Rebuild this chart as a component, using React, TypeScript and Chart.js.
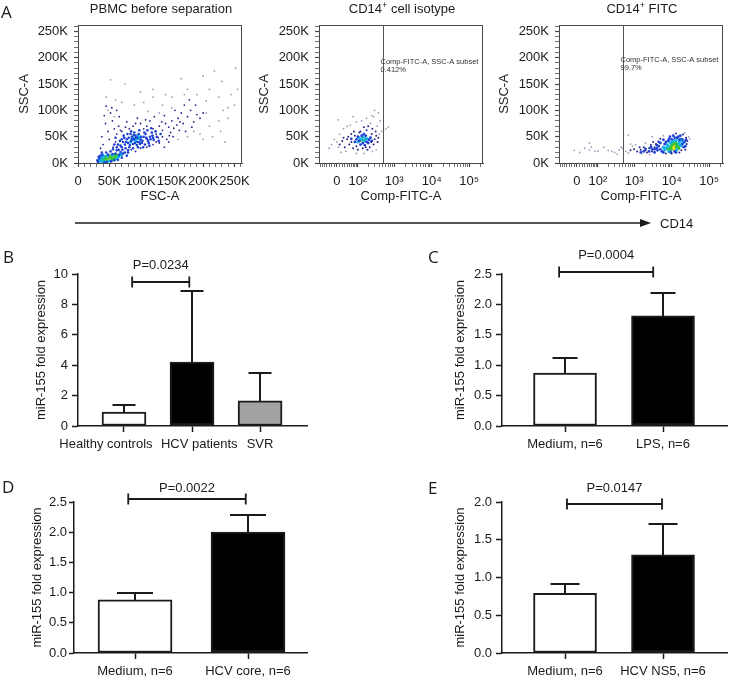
import React, { useEffect, useRef } from 'react';
import { Chart, registerables } from 'chart.js';

Chart.register(...registerables);

const SANS = "'Liberation Sans', Arial, Helvetica, sans-serif";
const LETTER_FONT = "'Open Sans', 'Liberation Sans', Arial, sans-serif";
const INK = '#1b1b1b';
const FLOW_AXIS = '#4a4a4a';

// ---------------- Panel A: flow cytometry ----------------
// FSC-A / SSC-A in thousands (K); Comp-FITC-A in raw units.
const FLOW_MAX_K = 262.144;
const LIN_MAJOR_K = [0, 50, 100, 150, 200, 250];
const FITC_MAJOR = [0, 100, 1000, 10000, 100000];
const FITC_MAJOR_LABELS = ['0', '10²', '10³', '10⁴', '10⁵'];
const FITC_MIN = -80;
const FITC_MAX = 232000;
const GATE_FITC = 500;
const GATE_TEXT = 'Comp-FITC-A, SSC-A subset';
const ISO_PCT = '0.412%';
const FITC_PCT = '99.7%';

const PBMC_SPARSE = [[210,70],[215,50],[225,80],[232,100],[240,105],[250,110],[255,140],[252,180],[218,175],[230,155],[200,165],[210,140],[190,130],[175,140],[165,160],[150,125],[140,130],[135,110],[120,125],[105,115],[100,135],[75,150],[52,158],[60,120],[45,125],[48,100],[225,125],[240,85],[205,118],[245,130],[185,60],[195,55],[228,60],[160,45],[175,50],[205,95],[150,105],[130,95],[112,98],[90,110],[70,115],[58,88],[170,130],[120,140],[235,40],[200,45]];
const PBMC_DARK = [[60,40],[62,55],[58,65],[55,80],[52,95],[54,105],[45,108],[42,90],[44,75],[48,60],[65,70],[70,60],[120,65],[125,55],[130,70],[135,62],[128,48],[140,75],[145,68],[150,80],[138,90],[155,100],[160,85],[165,95],[148,58],[170,110],[175,88],[180,100],[158,72],[120,35],[125,40],[130,38],[135,50],[142,45],[110,70],[115,80],[105,65],[100,75],[95,85],[88,70],[82,65],[78,78],[66,88],[62,100],[185,78],[190,92],[168,75],[178,120],[172,60],[195,85],[200,95],[188,110],[145,40],[152,50],[162,62],[182,68],[110,30],[100,28],[56,30],[50,45],[40,35],[36,28],[38,50],[85,25],[92,22],[138,30],[146,52],[134,78],[122,88],[108,82],[92,75],[76,68],[68,62],[153,66],[163,78]];
const PBMC_BLUE = [[70,30],[75,35],[80,38],[85,42],[90,45],[95,48],[100,44],[88,36],[82,30],[78,45],[92,52],[105,50],[110,46],[98,40],[86,50],[72,40],[68,33],[76,28],[94,34],[102,38],[108,55],[115,50],[84,55],[90,58],[65,25],[80,24],[96,30],[112,42],[118,58],[74,48],[64,35],[70,45],[73,52],[77,40],[81,48],[83,34],[87,46],[89,53],[91,38],[93,48],[97,55],[99,36],[101,50],[103,42],[106,58],[107,35],[109,48],[111,62],[113,38],[116,45],[119,52],[121,44],[124,60],[126,50],[129,42],[132,55],[98,62],[85,60],[79,55],[71,25],[67,42],[62,30],[60,48],[58,35],[104,30],[114,33],[95,40],[88,28],[120,48],[117,66],[32,2],[34,9],[36,14],[39,16],[42,1],[46,2],[53,3],[58,5],[64,6],[70,10],[72,18],[75,20],[68,21],[60,18],[55,17],[48,16],[31,5],[33,12],[62,24],[66,15],[78,14],[80,20],[45,20],[52,22],[38,20],[56,26]];
const PBMC_CYAN = [[35,4],[36,8],[38,3],[40,10],[43,2],[47,14],[50,4],[55,15],[62,8],[65,12],[66,16],[68,17],[37,11],[33,6],[41,13],[70,15],[88,44],[95,46],[92,42],[84,40],[99,47],[90,48],[96,52],[86,46],[100,49]];
const PBMC_GREEN = [[40,5],[42,8],[45,4],[48,11],[54,6],[57,8],[61,10],[63,14],[38,6],[52,13],[59,15],[44,12]];
const PBMC_YELLOW = [[44,7],[48,6],[52,8],[58,12],[55,9],[46,10],[50,12],[60,13]];
const PBMC_ORANGE = [[47,8],[51,9],[55,10],[49,11]];
const PBMC_RED = [[50,9],[53,10]];

const ISO_SPARSE = [[-20,35],[-10,45],[5,30],[10,55],[0,40],[25,65],[35,22],[15,20],[55,72],[90,78],[130,80],[180,85],[230,75],[280,88],[350,70],[400,55],[420,80],[380,95],[300,100],[250,90],[460,60],[520,62],[600,65],[700,68],[150,18],[260,22],[90,18],[330,25],[-30,28],[40,70],[5,82],[70,88]];
const ISO_DARK = [[30,30],[50,35],[40,45],[60,55],[70,28],[90,32],[120,60],[180,62],[250,55],[300,45],[280,35],[260,65],[220,30],[140,28],[100,25],[60,40],[20,42],[45,50],[75,60],[330,52],[360,40],[200,70],[150,68],[110,58],[240,40],[320,60],[170,30],[80,52],[10,35],[25,48],[190,25],[380,48]];
const ISO_BLUE = [[80,40],[100,50],[140,38],[170,52],[210,44],[120,35],[150,55],[230,48],[90,45],[200,38],[60,46],[130,52],[180,40],[250,42],[110,42],[160,34]];
const ISO_CYAN = [[130,45],[160,42],[110,48],[190,46],[140,50],[100,40],[170,47]];
const ISO_GREEN = [[140,44],[165,46],[120,43]];

const FITC_SPARSE = [[600,22],[500,28],[700,19],[900,32],[400,25],[300,20],[200,24],[100,23],[50,25],[30,28],[-10,24],[10,20],[150,30],[250,22],[1100,35],[3000,50],[2000,38],[28000,50],[30000,46],[22000,57],[6000,52],[350,17],[450,30],[800,36],[80,22],[60,30],[1600,18],[2600,16],[700,53],[50,38]];
const FITC_DARK = [[2000,24],[2500,28],[3000,22],[3500,30],[2200,20],[1500,25],[1800,30],[3800,36],[1200,22],[1000,26],[800,24],[1400,30],[3200,40],[2800,34],[26000,42],[24000,48],[25000,36],[23000,25],[7000,18],[10000,18],[16000,20],[18000,24],[20000,54],[13000,56],[5000,46]];
const FITC_BLUE = [[4500,40],[6000,44],[9000,50],[11000,52],[17000,52],[5000,26],[4500,32],[4000,28],[5500,22],[12000,22],[21000,30],[22000,40],[19000,45],[15000,50],[8000,42],[6500,36],[3500,26],[14000,48],[10000,45],[1500,20],[2000,27],[2500,22],[3000,26],[3500,20],[4000,34],[2800,30],[1800,22],[5000,38],[7000,40],[8500,46],[12000,48],[16000,44],[19000,36],[23000,32],[24000,44],[9500,20],[13000,20],[6000,20],[4200,24]];
const FITC_CYAN = [[7000,28],[6000,30],[9500,38],[16000,40],[18000,33],[11000,42],[13500,25],[8500,22],[17000,45],[7500,35],[20000,38],[9000,40],[13000,43],[15500,36],[19500,42],[8000,32],[6500,25]];
const FITC_GREEN = [[9000,30],[14000,35],[10000,34],[15000,28],[12500,38],[8000,27],[11000,38],[13500,31],[16000,33],[9500,26]];
const FITC_YELLOW = [[11000,30],[13000,33],[12000,27],[10500,36]];
const FITC_ORANGE = [[11500,31],[12500,30]];

const C_SPARSE = 'rgba(105,105,150,0.65)';
const C_DARK = '#25258a';
const C_BLUE = '#1d3fd6';
const C_CYAN = '#18b4e6';
const C_GREEN = '#38c43a';
const C_YELLOW = '#efe01e';
const C_ORANGE = '#ff8a00';
const C_RED = '#ff2400';

// ---------------- Panels B-E: bar charts ----------------
const Y_TITLE = 'miR-155 fold expression';

const CATS_B = ['Healthy controls', 'HCV patients', 'SVR'];
const MEAN_B = [0.92, 4.2, 1.65];
const SD_B = [0.48, 4.7, 1.85];
const P_B = 'P=0.0234';

const CATS_C = ['Medium, n=6', 'LPS, n=6'];
const MEAN_C = [0.87, 1.81];
const SD_C = [0.25, 0.38];
const P_C = 'P=0.0004';

const CATS_D = ['Medium, n=6', 'HCV core, n=6'];
const MEAN_D = [0.88, 2.0];
const SD_D = [0.11, 0.28];
const P_D = 'P=0.0022';

const CATS_E = ['Medium, n=6', 'HCV NS5, n=6'];
const MEAN_E = [0.79, 1.3];
const SD_E = [0.12, 0.41];
const P_E = 'P=0.0147';

const logicle = (v: number) => Math.asinh(v / 60) / Math.LN10;

function linTicks(isX: boolean) {
  const out: any[] = [];
  for (let v = 0; v <= 260; v += 10) {
    let lab = '';
    if (LIN_MAJOR_K.includes(v)) lab = v === 0 && isX ? '0' : `${v}K`;
    out.push({ value: v, lab });
  }
  return out;
}

function fitcTicks() {
  const out: any[] = [];
  FITC_MAJOR.forEach((v, i) => out.push({ value: logicle(v), lab: FITC_MAJOR_LABELS[i] }));
  const minors: number[] = [];
  for (let n = 1; n <= 7; n++) minors.push(-n * 10);
  for (let n = 1; n <= 9; n++) minors.push(n * 10);
  [100, 1000, 10000].forEach((b) => { for (let n = 2; n <= 9; n++) minors.push(n * b); });
  minors.push(200000);
  minors.forEach((v) => out.push({ value: logicle(v), lab: '' }));
  return out.sort((a, b) => a.value - b.value);
}

function FlowPlot(p: any) {
  const ref = useRef<HTMLCanvasElement>(null);
  useEffect(() => {
    const tx = p.log ? logicle : (v: number) => v;
    const xTicks = p.log ? fitcTicks() : linTicks(true);
    const yTicks = linTicks(false);
    const decor = {
      id: 'flowDecor',
      afterDatasetsDraw(chart: any) {
        const { ctx, chartArea: a, scales } = chart;
        ctx.save();
        ctx.strokeStyle = FLOW_AXIS;
        ctx.lineWidth = 1;
        ctx.strokeRect(a.left + 0.5, a.top + 0.5, a.right - a.left - 1, a.bottom - a.top);
        if (p.gate !== undefined) {
          const gx = Math.round(scales.x.getPixelForValue(logicle(p.gate))) + 0.5;
          ctx.strokeStyle = '#555';
          ctx.lineWidth = 1;
          ctx.beginPath();
          ctx.moveTo(gx, a.top);
          ctx.lineTo(gx, a.bottom);
          ctx.stroke();
          ctx.fillStyle = '#333';
          ctx.font = `7.5px ${SANS}`;
          ctx.textAlign = 'left';
          ctx.textBaseline = 'middle';
          ctx.fillText(GATE_TEXT, gx - 3, a.top + p.gateDy[0]);
          ctx.fillText(p.pct, gx - 3, a.top + p.gateDy[1]);
        }
        ctx.restore();
      },
    };
    const cfg: any = {
      type: 'scatter',
      data: {
        datasets: p.groups.map((g: any) => ({
          data: g.pts.map((q: number[]) => ({ x: tx(q[0]), y: q[1] })),
          backgroundColor: g.color,
          borderWidth: 0,
          pointRadius: g.r,
          pointHoverRadius: g.r,
          pointBorderWidth: 0,
        })),
      },
      options: {
        animation: false,
        responsive: false,
        maintainAspectRatio: false,
        devicePixelRatio: 1,
        events: [],
        layout: { padding: { top: p.padTop, right: p.padRight, bottom: 0, left: 0 } },
        plugins: { legend: { display: false }, tooltip: { enabled: false } },
        scales: {
          x: {
            type: 'linear',
            min: p.log ? logicle(FITC_MIN) : 0,
            max: p.log ? logicle(FITC_MAX) : FLOW_MAX_K,
            afterBuildTicks: (s: any) => { s.ticks = xTicks.map((t: any) => ({ ...t })); },
            afterFit: (s: any) => { s.height = p.xAxisH; },
            ticks: {
              autoSkip: false, maxRotation: 0, minRotation: 0, padding: 7, color: INK,
              font: { family: SANS, size: 13 },
              callback: (_v: any, i: number, ticks: any[]) => (ticks[i] && ticks[i].lab) || '',
            },
            grid: {
              display: true, drawOnChartArea: false, drawTicks: true, tickLength: 4, color: FLOW_AXIS,
              tickWidth: (c: any) => (c.tick && c.tick.lab ? 1.2 : 0.8),
            },
            border: { display: true, color: FLOW_AXIS, width: 1 },
            title: { display: true, text: p.xTitle, color: INK, font: { family: SANS, size: 13 }, padding: { top: 0, bottom: 1 } },
          },
          y: {
            type: 'linear',
            min: 0,
            max: FLOW_MAX_K,
            afterBuildTicks: (s: any) => { s.ticks = yTicks.map((t: any) => ({ ...t })); },
            afterFit: (s: any) => { s.width = p.yAxisW; },
            ticks: {
              autoSkip: false, padding: 6, color: INK,
              font: { family: SANS, size: 13 },
              callback: (_v: any, i: number, ticks: any[]) => (ticks[i] && ticks[i].lab) || '',
            },
            grid: {
              display: true, drawOnChartArea: false, drawTicks: true, tickLength: 4, color: FLOW_AXIS,
              tickWidth: (c: any) => (c.tick && c.tick.lab ? 1.2 : 0.8),
            },
            border: { display: true, color: FLOW_AXIS, width: 1 },
            title: { display: true, text: 'SSC-A', color: INK, font: { family: SANS, size: 13 }, padding: { top: 17, bottom: 0 } },
          },
        },
      },
      plugins: [decor],
    };
    const chart = new Chart(ref.current as HTMLCanvasElement, cfg);
    return () => chart.destroy();
  }, []);
  return (
    <canvas ref={ref} width={p.width} height={p.height}
      style={{ position: 'absolute', left: p.left, top: p.top, width: p.width, height: p.height }} />
  );
}

function BarPanel(p: any) {
  const ref = useRef<HTMLCanvasElement>(null);
  useEffect(() => {
    const decor = {
      id: 'barDecor',
      afterDatasetsDraw(chart: any) {
        const { ctx, scales } = chart;
        const ys = scales.y;
        const xs = scales.x;
        const meta = chart.getDatasetMeta(0);
        ctx.save();
        ctx.strokeStyle = INK;
        ctx.lineWidth = 2;
        meta.data.forEach((bar: any, i: number) => {
          const x = Math.round(bar.x);
          const yTop = ys.getPixelForValue(p.means[i]) + 1;
          const yErr = Math.round(ys.getPixelForValue(p.means[i] + p.sds[i]));
          ctx.beginPath();
          ctx.moveTo(x, yTop);
          ctx.lineTo(x, yErr);
          ctx.moveTo(x - p.capW / 2, yErr);
          ctx.lineTo(x + p.capW / 2, yErr);
          ctx.stroke();
        });
        const b = p.bracket;
        const by = Math.round(ys.getPixelForValue(b.y));
        const x0 = xs.getPixelForValue(b.x0);
        const x1 = xs.getPixelForValue(b.x1);
        ctx.lineWidth = 1.8;
        ctx.beginPath();
        ctx.moveTo(x0, by);
        ctx.lineTo(x1, by);
        ctx.moveTo(x0, by - 5.5);
        ctx.lineTo(x0, by + 5.5);
        ctx.moveTo(x1, by - 5.5);
        ctx.lineTo(x1, by + 5.5);
        ctx.stroke();
        ctx.fillStyle = INK;
        ctx.font = `13px ${SANS}`;
        ctx.textAlign = 'center';
        ctx.textBaseline = 'middle';
        ctx.fillText(b.text, (x0 + x1) / 2, by - b.dy);
        ctx.restore();
      },
    };
    const labelFor = (i: number) => {
      const pad = p.labelSpaces ? p.labelSpaces[i] : [0, 0];
      return ' '.repeat(pad[0]) + p.cats[i] + ' '.repeat(pad[1]);
    };
    const cfg: any = {
      type: 'bar',
      data: {
        datasets: [{
          data: p.cats.map((_c: string, i: number) => ({ x: i, y: p.means[i] })),
          backgroundColor: p.fills,
          borderColor: INK,
          borderWidth: 2,
          borderSkipped: false,
          barThickness: p.barW,
        }],
      },
      options: {
        animation: false,
        responsive: false,
        maintainAspectRatio: false,
        devicePixelRatio: 1,
        events: [],
        layout: { padding: { top: p.padTop, right: p.padRight, bottom: 0, left: 0 } },
        plugins: { legend: { display: false }, tooltip: { enabled: false } },
        scales: {
          x: {
            type: 'linear',
            offset: false,
            min: p.xMin,
            max: p.xMax,
            afterBuildTicks: (s: any) => { s.ticks = p.cats.map((_c: string, i: number) => ({ value: i })); },
            afterFit: (s: any) => { s.height = p.xAxisH; },
            ticks: {
              autoSkip: false, maxRotation: 0, minRotation: 0, padding: 5, color: INK,
              font: { family: SANS, size: 13 },
              callback: (_v: any, i: number) => labelFor(i),
            },
            grid: { display: true, offset: false, drawOnChartArea: false, drawTicks: true, tickLength: 6, color: INK, tickWidth: 1.5 },
            border: { display: true, color: INK, width: 1.5 },
          },
          y: {
            type: 'linear',
            min: 0,
            max: p.yMax,
            afterFit: (s: any) => { s.width = p.yAxisW; },
            ticks: {
              stepSize: p.yStep, padding: p.yTickPad, color: INK,
              font: { family: SANS, size: 13 },
              callback: (v: number) => Number(v).toFixed(p.decimals),
            },
            grid: { display: true, drawOnChartArea: false, drawTicks: true, tickLength: p.yTickLen, color: INK, tickWidth: 1.5 },
            border: { display: true, color: INK, width: 1.5 },
            title: { display: true, text: Y_TITLE, color: INK, font: { family: SANS, size: 13 }, padding: { top: p.yTitlePad, bottom: 0 } },
          },
        },
      },
      plugins: [decor],
    };
    const chart = new Chart(ref.current as HTMLCanvasElement, cfg);
    return () => chart.destroy();
  }, []);
  return (
    <canvas ref={ref} width={p.width} height={p.height}
      style={{ position: 'absolute', left: p.left, top: p.top, width: p.width, height: p.height }} />
  );
}

const letterStyle = (left: number, top: number): any => ({
  position: 'absolute', left, top, fontFamily: LETTER_FONT, fontSize: 17, lineHeight: '17px', color: INK,
});
const titleStyle = (cx: number, top: number): any => ({
  position: 'absolute', left: cx - 110, top, width: 220, textAlign: 'center', fontFamily: SANS,
  fontSize: 13, lineHeight: '16px', color: INK, whiteSpace: 'nowrap',
});
const supStyle: any = { fontSize: 9, lineHeight: '9px', verticalAlign: 'baseline', position: 'relative', top: -5 };

export default function App() {
  useEffect(() => { document.body.style.margin = '0'; }, []);
  const pbmcGroups = [
    { pts: PBMC_SPARSE, color: C_SPARSE, r: 0.9 },
    { pts: PBMC_DARK, color: C_DARK, r: 0.9 },
    { pts: PBMC_BLUE, color: C_BLUE, r: 1.3 },
    { pts: PBMC_CYAN, color: C_CYAN, r: 1.6 },
    { pts: PBMC_GREEN, color: C_GREEN, r: 2 },
    { pts: PBMC_YELLOW, color: C_YELLOW, r: 2.2 },
    { pts: PBMC_ORANGE, color: C_ORANGE, r: 2.2 },
    { pts: PBMC_RED, color: C_RED, r: 2 },
  ];
  const isoGroups = [
    { pts: ISO_SPARSE, color: C_SPARSE, r: 0.9 },
    { pts: ISO_DARK, color: C_DARK, r: 1 },
    { pts: ISO_BLUE, color: C_BLUE, r: 1.4 },
    { pts: ISO_CYAN, color: C_CYAN, r: 1.6 },
    { pts: ISO_GREEN, color: C_GREEN, r: 1.6 },
  ];
  const fitcGroups = [
    { pts: FITC_SPARSE, color: C_SPARSE, r: 0.9 },
    { pts: FITC_DARK, color: C_DARK, r: 1 },
    { pts: FITC_BLUE, color: C_BLUE, r: 1.4 },
    { pts: FITC_CYAN, color: C_CYAN, r: 1.7 },
    { pts: FITC_GREEN, color: C_GREEN, r: 2 },
    { pts: FITC_YELLOW, color: C_YELLOW, r: 2.2 },
    { pts: FITC_ORANGE, color: C_ORANGE, r: 2.2 },
  ];
  return (
    <div style={{ position: 'absolute', left: 0, top: 0, width: 732, height: 679, background: '#fff', overflow: 'hidden', fontFamily: SANS, color: INK }}>
      <FlowPlot left={0} top={0} width={250} height={205} yAxisW={78} xAxisH={42} padTop={25} padRight={8}
        groups={pbmcGroups} log={false} xTitle="FSC-A" />
      <FlowPlot left={240} top={0} width={250} height={205} yAxisW={79} xAxisH={42} padTop={25} padRight={7}
        groups={isoGroups} log={true} xTitle="Comp-FITC-A" gate={GATE_FITC} pct={ISO_PCT} gateDy={[37, 45]} />
      <FlowPlot left={480} top={0} width={252} height={205} yAxisW={79} xAxisH={42} padTop={25} padRight={9}
        groups={fitcGroups} log={true} xTitle="Comp-FITC-A" gate={GATE_FITC} pct={FITC_PCT} gateDy={[35, 43]} />

      <BarPanel left={0} top={240} width={360} height={220} yAxisW={78} xAxisH={34} padTop={34} padRight={53}
        cats={CATS_B} means={MEAN_B} sds={SD_B} fills={['#ffffff', '#000000', '#a3a3a3']}
        xMin={-0.676} xMax={2.69} yMax={10} yStep={2} decimals={0} barW={44} capW={23}
        yTitlePad={34} yTickLen={6} yTickPad={4} labelSpaces={[[0, 10], [4, 0], [0, 0]]}
        bracket={{ x0: 0.12, x1: 0.96, y: 9.5, text: P_B, dy: 17 }} />
      <BarPanel left={360} top={240} width={372} height={220} yAxisW={142} xAxisH={34} padTop={34} padRight={5}
        cats={CATS_C} means={MEAN_C} sds={SD_C} fills={['#ffffff', '#000000']}
        xMin={-0.643} xMax={1.653} yMax={2.5} yStep={0.5} decimals={1} barW={63} capW={25}
        yTitlePad={93} yTickLen={6} yTickPad={4}
        bracket={{ x0: -0.06, x1: 0.9, y: 2.53, text: P_C, dy: 17 }} />
      <BarPanel left={0} top={460} width={360} height={219} yAxisW={74} xAxisH={26} padTop={42} padRight={53}
        cats={CATS_D} means={MEAN_D} sds={SD_D} fills={['#ffffff', '#000000']}
        xMin={-0.54} xMax={1.522} yMax={2.5} yStep={0.5} decimals={1} barW={74} capW={36}
        yTitlePad={30} yTickLen={5} yTickPad={2}
        bracket={{ x0: -0.06, x1: 0.98, y: 2.55, text: P_D, dy: 11 }} />
      <BarPanel left={360} top={460} width={372} height={219} yAxisW={142} xAxisH={26} padTop={42} padRight={5}
        cats={CATS_E} means={MEAN_E} sds={SD_E} fills={['#ffffff', '#000000']}
        xMin={-0.643} xMax={1.653} yMax={2} yStep={0.5} decimals={1} barW={63} capW={29}
        yTitlePad={93} yTickLen={6} yTickPad={4}
        bracket={{ x0: 0.02, x1: 0.99, y: 1.97, text: P_E, dy: 16 }} />

      <div style={titleStyle(161, 1)}>PBMC before separation</div>
      <div style={titleStyle(402, 1)}>CD14<sup style={supStyle}>+</sup> cell isotype</div>
      <div style={titleStyle(642, 1)}>CD14<sup style={supStyle}>+</sup> FITC</div>

      <svg style={{ position: 'absolute', left: 0, top: 215 }} width={732} height={16}>
        <line x1={75} y1={8} x2={643} y2={8} stroke={INK} strokeWidth={1.3} />
        <polygon points="640,4 651,8 640,12" fill={INK} />
      </svg>
      <div style={{ position: 'absolute', left: 660, top: 216, fontSize: 13, lineHeight: '16px', fontFamily: SANS }}>CD14</div>

      <div style={letterStyle(1, 3)}>A</div>
      <div style={letterStyle(3, 248)}>B</div>
      <div style={letterStyle(428, 248)}>C</div>
      <div style={letterStyle(2, 478)}>D</div>
      <div style={letterStyle(428, 479)}>E</div>
    </div>
  );
}
